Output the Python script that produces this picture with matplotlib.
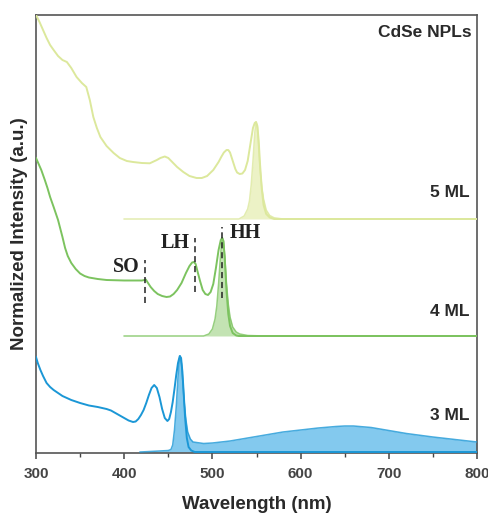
import numpy as np
import matplotlib
matplotlib.use("Agg")
import matplotlib.pyplot as plt
from matplotlib.ticker import MultipleLocator

plt.rcParams['font.family'] = ['Liberation Sans', 'DejaVu Sans']

# ---------------- data (normalized intensity above each baseline) -------------
# 3 ML
abs3_wl = [300, 302, 305, 308, 312, 316, 320, 325, 330, 340, 350, 360, 370, 380, 385, 390, 395,
           400, 405, 410, 413, 416, 419, 422, 425, 428, 431, 434, 437, 440, 443, 446, 449, 451,
           453, 455, 457, 459, 461, 463, 464.5, 466, 467.5, 469, 471, 473, 476, 480, 800]
abs3_y = [0.95, 0.89, 0.82, 0.76, 0.69, 0.65, 0.62, 0.59, 0.56, 0.52, 0.49, 0.465, 0.45, 0.43, 0.415,
          0.39, 0.365, 0.34, 0.315, 0.30, 0.305, 0.33, 0.37, 0.42, 0.49, 0.57, 0.64, 0.67, 0.64, 0.55,
          0.43, 0.34, 0.31, 0.33, 0.40, 0.50, 0.63, 0.77, 0.89, 0.96, 0.94, 0.80, 0.58, 0.35, 0.14,
          0.05, 0.015, 0.0, 0.0]
pl3_wl = [418, 440, 450, 453, 455, 457, 459, 461, 462.5, 463.5, 465, 466.5, 468, 470, 472, 475, 478,
          490, 500, 520, 540, 560, 580, 600, 620, 640, 650, 660, 680, 700, 720, 750, 780, 800]
pl3_y = [0.0, 0.01, 0.015, 0.025, 0.07, 0.22, 0.45, 0.75, 0.93, 0.96, 0.88, 0.70, 0.50, 0.32, 0.20,
         0.13, 0.10, 0.085, 0.09, 0.11, 0.14, 0.17, 0.20, 0.22, 0.24, 0.255, 0.26, 0.26, 0.245, 0.215,
         0.185, 0.15, 0.12, 0.10]

# 4 ML
abs4_wl = [300, 303, 306, 310, 313, 316, 320, 325, 330, 333, 336, 340, 345, 350, 355, 360, 370,
           380, 400, 420, 423, 424.5, 427, 430, 434, 438, 443, 448, 452, 456, 460, 465, 470, 474,
           477, 479, 481, 483, 486, 489, 492, 495, 498, 501, 504, 507, 509.5, 511, 512.5, 514, 516,
           518, 520, 523, 527, 530, 800]
abs4_y = [1.78, 1.72, 1.66, 1.56, 1.48, 1.39, 1.29, 1.16, 0.99, 0.88, 0.80, 0.73, 0.67, 0.625, 0.60,
          0.585, 0.57, 0.56, 0.555, 0.555, 0.56, 0.565, 0.53, 0.49, 0.45, 0.42, 0.40, 0.39, 0.395,
          0.42, 0.46, 0.53, 0.63, 0.70, 0.735, 0.74, 0.72, 0.65, 0.55, 0.46, 0.42, 0.41, 0.44, 0.52,
          0.68, 0.86, 0.96, 0.98, 0.95, 0.78, 0.45, 0.22, 0.10, 0.03, 0.005, 0.0, 0.0]
pl4_wl = [400, 490, 496, 500, 503, 505, 507, 509, 510.5, 511.5, 512.5, 514, 516, 518, 520, 523, 527,
          531, 540, 560, 800]
pl4_y = [0.0, 0.0, 0.02, 0.07, 0.17, 0.30, 0.52, 0.78, 0.94, 0.98, 0.95, 0.80, 0.52, 0.32, 0.19,
         0.09, 0.04, 0.02, 0.005, 0.0, 0.0]

# 5 ML
abs5_wl = [300, 304, 308, 312, 316, 320, 325, 330, 335, 340, 346, 352, 357, 361, 365, 369, 373,
           380, 388, 395, 403, 410, 420, 429, 437, 441, 446, 450, 455, 460, 467, 474, 482, 488,
           494, 501, 507, 510, 513, 516, 518, 520, 522, 524, 526, 528, 531, 534, 537, 540, 542,
           544, 546, 548, 549.5, 551, 552.5, 554, 556, 558, 561, 565, 570, 800]
abs5_y = [2.04, 1.97, 1.89, 1.81, 1.74, 1.69, 1.63, 1.59, 1.57, 1.51, 1.42, 1.36, 1.32, 1.19, 1.02,
          0.91, 0.82, 0.73, 0.66, 0.61, 0.58, 0.57, 0.56, 0.557, 0.59, 0.61, 0.625, 0.61, 0.565, 0.52,
          0.47, 0.43, 0.41, 0.41, 0.43, 0.49, 0.57, 0.62, 0.665, 0.69, 0.69, 0.665, 0.61, 0.555, 0.50,
          0.465, 0.45, 0.455, 0.49, 0.58, 0.69, 0.80, 0.91, 0.96, 0.97, 0.93, 0.78, 0.55, 0.30, 0.14,
          0.05, 0.015, 0.0, 0.0]
pl5_wl = [400, 530, 536, 540, 542, 544, 546, 548, 549.5, 551, 552.5, 554, 556, 558, 561, 565, 570,
          580, 800]
pl5_y = [0.0, 0.0, 0.03, 0.10, 0.18, 0.34, 0.58, 0.86, 0.97, 0.92, 0.72, 0.50, 0.32, 0.20, 0.09,
         0.035, 0.012, 0.0, 0.0]

series_labels = ['3 ML', '4 ML', '5 ML']
baselines = [0.01, 1.17, 2.34]

# exciton transitions of 4 ML
trans_names = ['SO', 'LH', 'HH']
trans_wl = [424, 480, 510.5]

# ---------------- styles -------------------------------------------------------
line_cols = ['#1b97d6', '#7cc35f', '#dce89c']
fill_cols = ['#7cc6ee', '#b9dfa6', '#eaf1c0']
fill_alpha = [0.95, 0.85, 0.9]

fig = plt.figure(figsize=(4.89, 5.13), dpi=100)
ax = fig.add_axes([36/489, 1-453/513, 441/489, 438/513])

data = [(abs3_wl, abs3_y, pl3_wl, pl3_y),
        (abs4_wl, abs4_y, pl4_wl, pl4_y),
        (abs5_wl, abs5_y, pl5_wl, pl5_y)]

for i, (awl, ay, pwl, py) in enumerate(data):
    b = baselines[i]
    pw = np.array(pwl)
    pv = np.array(py) + b
    ax.fill_between(pw, b, pv, color=fill_cols[i], alpha=fill_alpha[i], lw=0, zorder=2)
    ax.plot(pw, pv, color=line_cols[i], lw=1.1, alpha=0.8, zorder=3)
    ax.plot(awl, np.array(ay) + b, color=line_cols[i], lw=1.4, zorder=4,
            solid_joinstyle='round')

# dashed transition markers (spans in data units)
spans = [(1.50, 1.93), (1.61, 2.15), (1.55, 2.26)]
for wl, (y0, y1) in zip(trans_wl, spans):
    ax.plot([wl, wl], [y0, y1], color='#222222', lw=1.1, ls=(0, (4, 2.5)), zorder=5)

label_pos = [(417, 1.86, 'right'), (474.5, 2.10, 'right'), (520, 2.20, 'left')]
for name, (x, y, ha) in zip(trans_names, label_pos):
    ax.text(x, y, name, fontsize=14.5, fontweight='bold', family=['Liberation Serif'],
            ha=ha, va='center', color='#222222', zorder=6)

label_y = [0.085, 0.3226, 0.594]
for lab, y in zip(series_labels, label_y):
    ax.text(0.984, y, lab, transform=ax.transAxes, ha='right', va='center',
            fontsize=12.5, fontweight='bold', color='#2a2a2a')
ax.text(0.987, 0.959, 'CdSe NPLs', transform=ax.transAxes, ha='right', va='center',
        fontsize=12.5, fontweight='bold', color='#2a2a2a')

ax.set_xlim(300, 800)
ax.set_ylim(0, 4.38)
ax.xaxis.set_major_locator(MultipleLocator(100))
ax.xaxis.set_minor_locator(MultipleLocator(50))
ax.set_yticks([])
ax.tick_params(axis='x', which='major', direction='out', length=4, width=1.1,
               color='#444444', labelsize=11, labelcolor='#444444', pad=6)
ax.tick_params(axis='x', which='minor', direction='out', length=3, width=1.0, color='#444444')
for lab in ax.get_xticklabels():
    lab.set_fontweight('bold')
for s in ax.spines.values():
    s.set_linewidth(1.2)
    s.set_color('#555555')

ax.set_xlabel('Wavelength (nm)', fontsize=13.5, fontweight='bold', color='#2a2a2a', labelpad=11)
ax.set_ylabel('Normalized Intensity (a.u.)', fontsize=13.5, fontweight='bold',
              color='#2a2a2a', labelpad=6)

fig.savefig('out.png', dpi=100)
